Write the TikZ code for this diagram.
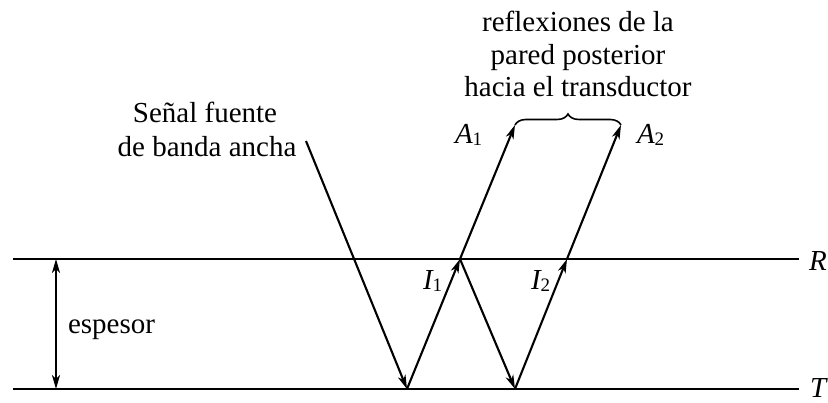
\documentclass[tikz,border=0pt]{standalone}
\usepackage{fontspec}
\setmainfont{Liberation Serif}
\usetikzlibrary{arrows.meta,decorations.pathreplacing}
\begin{document}
\begin{tikzpicture}[x=1pt,y=-1pt,
  tip/.style={-{Stealth[length=14pt,width=8pt,inset=4pt]}},
  ray/.style={line width=2.1pt,tip},
  plane/.style={line width=2.1pt},
  lbl/.style={inner sep=0pt,outer sep=0pt,font=\fontsize{29}{32.5}\selectfont}]
\useasboundingbox (0,0) rectangle (828,403);
% vertices
\coordinate (src) at (306,141);
\coordinate (b1) at (407,389);
\coordinate (t1) at (460,259);
\coordinate (b2) at (515,389);
\coordinate (t2) at (567,259);
\coordinate (a1) at (515,125);
\coordinate (a2) at (621,125);
\coordinate (rl) at (13,259);
\coordinate (rr) at (799,259);
\coordinate (tl) at (13,389);
\coordinate (tr) at (799,389);
\coordinate (eu) at (56,259);
\coordinate (ed) at (56,389);
% planes
\draw[plane] (rl) -- (rr);
\draw[plane] (tl) -- (tr);
\draw[plane,{Stealth[length=14pt,width=8pt,inset=4pt]}-{Stealth[length=14pt,width=8pt,inset=4pt]}] (eu) -- (ed);
% rays
\draw[ray] (src) -- (b1);
\draw[ray] (b1) -- (t1);
\draw[ray] (t1) -- (b2);
\draw[ray] (b2) -- (t2);
\draw[ray] (t1) -- (a1);
\draw[ray] (t2) -- (a2);
% brace
\draw[line width=1.6pt,decorate,decoration={brace,amplitude=11pt}] (a1) -- (a2);
% labels
\node[lbl,anchor=base west] (R) at (809,271) {\itshape R};
\node[lbl,anchor=base west] (T) at (810,398) {\itshape T};
\node[lbl,anchor=base west] (esp) at (68,334) {espesor};
\node[lbl,anchor=base west] (A1) at (455,144) {\itshape A\raisebox{-2pt}{\upshape\fontsize{19}{19}\selectfont 1}};
\node[lbl,anchor=base west] (A2) at (637,144) {\itshape A\raisebox{-2pt}{\upshape\fontsize{19}{19}\selectfont 2}};
\node[lbl,anchor=base west] (I1) at (423,290) {\itshape I\raisebox{-2pt}{\upshape\fontsize{19}{19}\selectfont 1}};
\node[lbl,anchor=base west] (I2) at (531,290) {\itshape I\raisebox{-2pt}{\upshape\fontsize{19}{19}\selectfont 2}};
\node[lbl,anchor=base] (s1) at (205,123) {Señal fuente};
\node[lbl,anchor=base] (s2) at (207,157) {de banda ancha};
\node[lbl,anchor=base] (r1) at (578,32) {reflexiones de la};
\node[lbl,anchor=base] (r2) at (578,64.5) {pared posterior};
\node[lbl,anchor=base] (r3) at (578,97) {hacia el transductor};
\end{tikzpicture}
\end{document}
